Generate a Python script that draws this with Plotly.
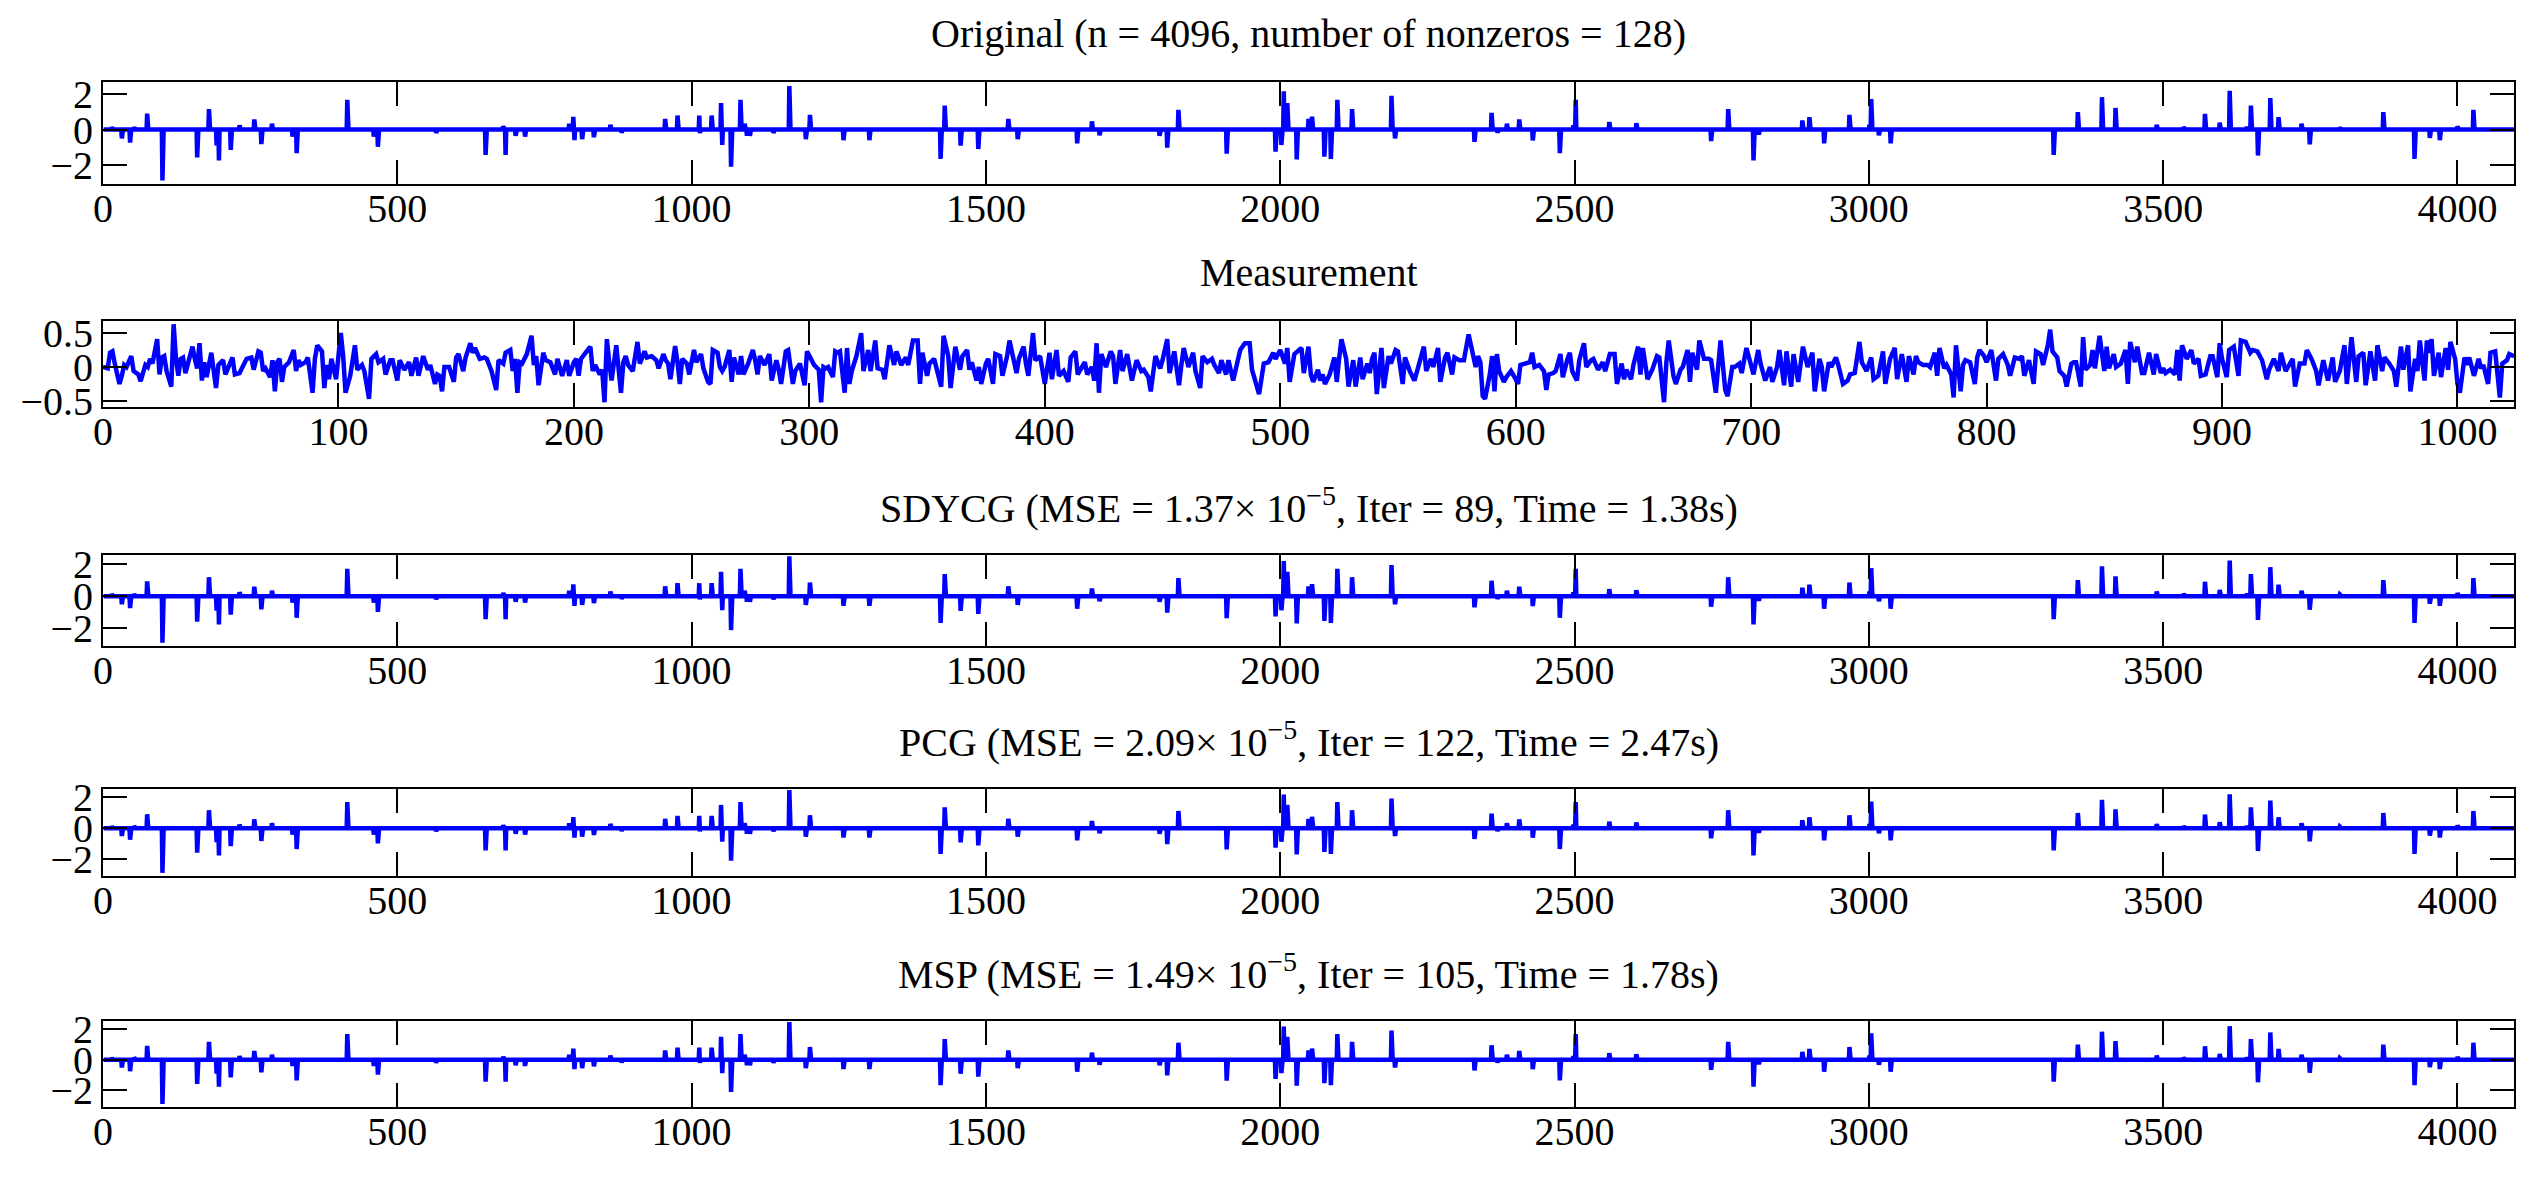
import numpy as np
import plotly.graph_objects as go

N_SIGNAL = 4096
N_MEAS = 1024

# ---- sparse original signal: index and amplitude of the nonzeros ----
orig_idx = [15, 32, 46, 53, 75, 101, 160, 180, 193, 197, 217, 232, 257, 269, 287, 322, 329,
            415, 460, 467, 566, 650, 680, 684, 701, 717, 792, 799, 801, 814, 834, 862, 881,
            955, 976, 1013, 1014, 1034, 1050, 1052, 1067, 1083, 1090, 1094, 1099, 1139, 1166,
            1194, 1201, 1258, 1302, 1423, 1430, 1457, 1487, 1538, 1554, 1655, 1680, 1693,
            1795, 1808, 1827, 1909, 1992, 2002, 2006, 2012, 2028, 2048, 2054, 2075, 2086,
            2097, 2122, 2189, 2195, 2330, 2359, 2369, 2385, 2406, 2429, 2475, 2498, 2502,
            2559, 2605, 2732, 2761, 2804, 2813, 2887, 2899, 2924, 2967, 3001, 3004, 3017,
            3037, 3314, 3355, 3396, 3419, 3489, 3535, 3571, 3596, 3613, 3642, 3649, 3661,
            3682, 3696, 3735, 3749, 3800, 3874, 3927, 3953, 3970, 4000, 4027]
orig_val = [0.13, -0.5, -0.74, 0.13, 0.91, -2.88, -1.58, 1.17, -0.9, -1.75, -1.15, 0.24, 0.58,
            -0.82, 0.33, -0.4, -1.34, 1.69, -0.4, -0.97, -0.19, -1.43, 0.2, -1.43, -0.35, -0.4,
            0.33, 0.73, -0.6, -0.54, -0.43, 0.28, -0.17, 0.61, 0.8, 0.8, -0.2, 0.8, 1.51, -0.87,
            -2.1, 1.69, 0.33, -0.35, -0.35, -0.19, 2.47, -0.54, 0.84, -0.6, -0.6, -1.66, 1.36,
            -0.91, -1.10, 0.61, -0.54, -0.78, 0.47, -0.32, -0.35, -1.02, 1.12, -1.36, -1.25,
            -0.87, 2.18, 1.51, -1.69, 0.61, 0.74, -1.53, -1.66, 1.69, 1.17, 1.92, -0.5, -0.69,
            0.95, -0.17, 0.33, 0.58, -0.61, -1.34, 0.24, 1.69, 0.43, 0.37, -0.65, 1.17, -1.75,
            -0.28, 0.52, 0.71, -0.78, 0.84, 0.28, 1.73, -0.32, -0.78, -1.43, 0.99, 1.84, 1.23,
            0.28, 0.15, 0.89, 0.39, 2.2, 0.15, 1.36, -1.47, 1.79, 0.71, 0.33, -0.84, 0.11, 0.99,
            -1.66, -0.47, -0.6, 0.19, 1.12]

# reconstructions are visually identical to the original
sdycg_idx, sdycg_val = orig_idx, orig_val
pcg_idx, pcg_val = orig_idx, orig_val
msp_idx, msp_val = orig_idx, orig_val

# ---- measurement (read as a trace of extrema) ----
meas_x = [0, 2, 3, 4, 5, 7, 8, 9, 10, 12, 13, 15, 16, 18, 19, 20, 21, 23, 24, 25, 26, 27, 29, 30,
          31, 32, 33, 34, 35, 36, 38, 39, 40, 41, 42, 43, 44, 46, 48, 49, 51, 52, 53, 55, 56, 58,
          59, 61, 63, 64, 66, 67, 68, 69, 71, 72, 73, 74, 75, 76, 77, 79, 81, 82, 83, 84, 86, 87,
          89, 90, 91, 93, 94, 95, 96, 97, 99, 101, 102, 103, 105, 107, 108, 110, 111, 113, 114,
          116, 117, 119, 120, 122, 123, 125, 126, 128, 130, 131, 133, 134, 136, 138, 139, 141,
          142, 143, 144, 145, 147, 149, 150, 151, 153, 154, 156, 157, 158, 160, 162, 163, 165,
          167, 168, 170, 171, 173, 174, 175, 176, 177, 178, 180, 182, 183, 184, 185, 187, 188,
          190, 192, 193, 195, 197, 198, 200, 201, 202, 203, 205, 207, 208, 209, 211, 212, 213,
          214, 215, 216, 218, 220, 221, 222, 223, 225, 227, 228, 230, 231, 233, 235, 236, 238,
          239, 240, 241, 243, 244, 245, 246, 248, 249, 251, 252, 254, 255, 257,
          258, 259, 261, 262, 263, 264, 266, 267, 268, 270, 271, 272, 274, 276, 277, 278, 279,
          281, 283, 284, 286, 287, 288, 290, 291, 293, 294, 296, 298, 299, 301, 302, 304, 305,
          306, 307, 308, 310, 311, 312, 313, 315, 316, 317, 318, 320, 322, 323, 325, 326, 328,
          329, 331, 332, 334, 336, 337, 339, 341, 342, 344, 346, 347, 348, 350, 351, 353, 354,
          356, 357, 359, 360, 362, 364, 365, 367, 368, 369, 371, 372, 373, 375, 376, 378, 379,
          381, 382, 384, 385, 387, 388, 389, 391, 392, 393, 395, 396, 398, 400, 402, 403, 405,
          406, 408, 410, 411, 413, 414, 416, 417, 418, 420, 421, 422, 423, 424, 426, 428, 429,
          430, 432, 433, 435, 437, 439, 441, 442, 444, 445, 447, 449, 450, 452, 453, 455, 457,
          458, 459, 461, 463, 464, 466, 467, 469, 471, 472, 474, 475, 477, 478, 480, 481, 483,
          485, 487, 488, 490, 491, 492, 493, 495, 497, 498, 500, 502, 503, 504, 506, 509, 510,
          512,
          513, 514, 516, 517, 518, 519, 521, 523, 524, 525, 526, 528, 529, 531, 532, 534, 535,
          537, 538, 539, 540, 541, 543, 544, 546, 547, 549, 550, 552, 553, 555, 557, 558, 561,
          562, 564, 565, 567, 568, 570, 571, 573, 574, 576, 578, 580, 581, 583, 584, 585, 586,
          587, 589, 590, 591, 592, 593, 595, 596, 598, 600, 601, 602, 604, 606, 607, 608, 610,
          612, 613, 614, 616, 617, 619, 620, 622, 623, 624, 626, 627, 629, 630, 632, 633, 635,
          637, 638, 640, 642, 643, 645, 646, 647, 649, 650, 652, 653, 654, 656, 658, 660, 661,
          663, 664, 665, 667, 668, 670, 671, 673, 674, 675, 677, 678, 680, 682, 683, 685, 686,
          687, 689, 690, 692, 693, 695, 696, 698, 700, 701, 703, 704, 706, 708, 709, 711, 712,
          714, 715, 717, 718, 719, 720, 722, 724, 726, 727, 729, 730, 731, 733, 734, 736, 737,
          739, 741, 742, 744, 746, 747, 749, 751, 752, 754, 756, 757, 759, 761, 762, 764, 766,
          767, 769,
          770, 771, 773, 775, 776, 778, 779, 780, 782, 783, 785, 786, 787, 789, 790, 791, 793,
          795, 796, 797, 799, 800, 802, 804, 805, 807, 809, 810, 812, 814, 815, 816, 818, 820,
          821, 823, 824, 826, 827, 828, 830, 831, 833, 834, 836, 837, 838, 840, 841, 842, 844,
          845, 846, 848, 850, 851, 852, 854, 855, 857, 859, 860, 861, 863, 864, 866, 867, 869,
          871, 872, 874, 875, 876, 878, 880, 881, 882, 883, 885, 887, 888, 890, 891, 893, 895,
          896, 898, 899, 900, 902, 903, 905, 907, 908, 910, 912, 913, 915, 917, 919, 920, 922,
          924, 925, 927, 929, 930, 931, 933, 935, 936, 938, 940, 941, 943, 945, 946, 947, 948,
          950, 952, 953, 955, 957, 958, 960, 961, 963, 965, 966, 968, 969, 971, 973, 974, 976,
          977, 979, 980, 982, 983, 984, 986, 987, 988, 989, 990, 992, 993, 995, 996, 997, 999,
          1000, 1001, 1003, 1004, 1005, 1007, 1009, 1010, 1011, 1013, 1014, 1016, 1018, 1019,
          1021, 1022, 1024]
meas_y = [0.00, -0.02, 0.21, 0.23, 0.05, -0.25, -0.13, 0.03, 0.00, 0.16, -0.06, -0.11, -0.21,
          0.03, 0.00, 0.12, 0.05, 0.41, -0.11, 0.14, 0.16, -0.06, -0.29, 0.63, 0.12, -0.13, 0.12,
          0.14, -0.09, 0.03, 0.30, 0.12, -0.02, 0.35, -0.20, 0.07, -0.15, 0.21, -0.31, 0.03, 0.10,
          -0.11, -0.02, 0.14, -0.11, -0.09, -0.02, 0.12, 0.14, -0.04, 0.23, 0.21, -0.06, -0.02,
          -0.15, 0.10, -0.36, 0.07, 0.12, -0.22, 0.00, 0.07, 0.25, -0.06, 0.10, 0.03, 0.07, 0.14,
          -0.38, 0.12, 0.32, 0.23, -0.31, 0.03, -0.18, 0.12, -0.18, 0.50, 0.16, -0.38, -0.13,
          0.32, -0.04, 0.03, -0.06, -0.47, 0.12, 0.19, 0.07, 0.12, -0.11, 0.10, 0.10, -0.20, 0.10,
          -0.04, 0.07, -0.13, 0.14, -0.13, 0.16, -0.04, 0.03, -0.25, -0.11, -0.13, -0.36, 0.00,
          0.00, -0.22, 0.14, 0.19, -0.06, 0.14, 0.35, 0.21, 0.28, 0.12, 0.14, 0.12, -0.06, -0.34,
          0.10, 0.05, 0.21, 0.25, -0.06, 0.12, -0.38, 0.07, 0.05, 0.19, 0.46, 0.03, 0.16, -0.27,
          0.21, 0.10, 0.07, -0.11, 0.12, -0.13, 0.10, -0.13, 0.07, 0.12, -0.13, 0.12, 0.21, 0.30,
          -0.06, 0.03, -0.11, -0.04, -0.52, 0.41, 0.07, -0.20, 0.32, -0.38, 0.07, 0.16, 0.03,
          -0.06, 0.37, 0.05, 0.23, 0.14, 0.16, 0.10, -0.02, 0.19, 0.10, 0.05, -0.18, 0.31, 0.07,
          -0.25, 0.12, 0.05, -0.11, 0.25, 0.07, 0.19, -0.02, -0.22,
          -0.25, 0.25, 0.21, 0.00, -0.06, 0.00, 0.25, -0.22, 0.14, -0.11, 0.16, -0.11, 0.05, 0.25,
          0.10, -0.11, 0.16, 0.03, 0.19, -0.20, 0.10, -0.04, -0.25, 0.23, 0.25, -0.25, -0.06,
          0.05, -0.27, 0.23, 0.10, 0.03, -0.04, -0.52, 0.00, -0.02, 0.00, -0.15, 0.23, 0.21, 0.23,
          -0.38, 0.28, -0.25, -0.06, 0.16, 0.50, -0.06, 0.25, -0.06, 0.39, -0.02, -0.04, -0.18,
          0.32, 0.03, 0.23, 0.03, 0.14, 0.03, 0.39, 0.39, -0.25, 0.21, -0.13, 0.05, 0.12, -0.02,
          -0.29, 0.46, 0.16, -0.31, 0.30, -0.04, 0.16, 0.25, -0.04, 0.07, -0.20, 0.00, -0.25,
          0.05, 0.12, -0.25, 0.19, 0.16, -0.13, 0.16, 0.39, 0.07, -0.09, 0.12, 0.30, 0.05, -0.13,
          0.50, 0.10, 0.16, -0.25, 0.21, -0.18, 0.25, -0.13, -0.06, -0.22, 0.14, 0.23, -0.11,
          0.03, 0.07, -0.11, 0.00, -0.20, 0.35, -0.38, 0.19, 0.00, 0.23, 0.16, -0.25, 0.25, -0.06,
          0.19, -0.20, 0.10, -0.06, -0.04, -0.15, -0.36, 0.16, -0.02, 0.10, 0.41, -0.09, 0.23,
          -0.27, 0.03, 0.28, 0.00, 0.21, -0.06, -0.31, 0.16, 0.07, 0.12, 0.03, -0.09, 0.10, -0.11,
          0.10, -0.20, -0.04, 0.25, 0.35, 0.35, -0.04, -0.29, -0.40, -0.18, 0.05, 0.07, 0.21,
          0.12, 0.25, 0.05, 0.28, -0.22, 0.19, 0.28, -0.09, 0.30,
          -0.11, -0.22, -0.04, -0.20, -0.11, -0.25, -0.11, 0.14, -0.22, 0.12, 0.41, 0.12, -0.29,
          0.10, -0.29, 0.14, -0.18, 0.05, -0.09, 0.12, 0.21, -0.40, 0.28, -0.31, 0.16, 0.05, 0.25,
          0.23, -0.25, 0.14, -0.06, -0.20, -0.06, 0.30, -0.06, 0.12, 0.00, 0.28, -0.22, 0.14,
          0.21, -0.11, 0.14, 0.10, 0.10, 0.48, 0.32, 0.00, 0.16, 0.07, -0.43, -0.47, -0.11, 0.16,
          -0.36, 0.19, -0.06, -0.22, -0.15, -0.06, -0.18, -0.25, 0.03, 0.05, 0.07, 0.21, 0.00,
          0.03, -0.06, -0.34, -0.11, -0.09, -0.06, 0.19, -0.15, 0.12, 0.21, -0.06, -0.20, 0.10,
          0.35, 0.00, 0.10, 0.12, -0.04, 0.07, -0.06, 0.19, 0.19, -0.25, 0.05, -0.18, -0.04,
          -0.18, 0.03, 0.30, -0.11, 0.28, -0.18, -0.04, 0.16, 0.14, -0.52, 0.07, 0.39, -0.13,
          -0.25, -0.04, 0.00, 0.25, -0.22, 0.21, -0.04, 0.39, 0.12, 0.12, 0.10, -0.38, -0.02,
          0.39, -0.34, -0.43, 0.00, 0.00, 0.05, -0.09, 0.28, 0.03, -0.11, 0.25, 0.05, -0.20, 0.00,
          -0.22, 0.00, 0.25, -0.27, 0.23, -0.29, 0.19, 0.00, -0.22, 0.30, 0.00, 0.21, -0.36, 0.12,
          0.00, -0.36, 0.07, 0.00, 0.14, 0.03, -0.25, -0.20, -0.11, -0.09, 0.37, 0.07, -0.06,
          0.14, -0.18, -0.13, 0.23, -0.25, 0.12, 0.28, -0.18, 0.19, -0.22, 0.16, -0.11,
          0.16, 0.07, 0.03, 0.03, 0.00, 0.21, -0.13, 0.28, -0.02, 0.03, -0.11, -0.45, 0.32, -0.36,
          0.03, 0.10, 0.07, -0.25, 0.14, 0.25, 0.16, 0.07, 0.25, -0.20, 0.12, 0.19, 0.03, -0.13,
          0.14, 0.12, 0.16, -0.13, 0.10, -0.25, 0.23, 0.19, 0.03, 0.32, 0.55, 0.23, 0.14, -0.06,
          -0.13, -0.29, 0.05, 0.07, 0.07, -0.29, 0.44, -0.04, 0.03, 0.25, -0.02, 0.46, -0.06,
          0.30, -0.02, 0.19, 0.00, 0.05, 0.25, -0.25, 0.37, 0.07, 0.30, -0.09, -0.09, 0.21, -0.11,
          0.19, -0.09, -0.02, -0.09, -0.04, -0.11, 0.25, -0.20, 0.32, 0.12, 0.25, 0.05, 0.12,
          -0.13, -0.11, 0.16, 0.16, -0.15, 0.35, 0.12, -0.15, 0.25, 0.30, -0.13, 0.39, 0.37, 0.21,
          0.25, 0.23, 0.10, -0.18, -0.04, 0.12, -0.06, 0.21, -0.06, 0.05, 0.12, -0.29, 0.05, 0.05,
          0.25, 0.12, -0.06, -0.27, 0.10, -0.20, 0.00, 0.14, -0.22, -0.06, 0.32, -0.25, 0.44,
          -0.22, 0.16, 0.21, -0.27, 0.23, -0.20, 0.32, -0.06, 0.14, 0.05, -0.06, -0.29, 0.30,
          -0.04, 0.32, -0.36, 0.12, -0.06, 0.39, -0.20, 0.39, 0.21, 0.41, -0.13, 0.21, -0.15,
          0.28, -0.04, 0.37, 0.12, -0.25, -0.38, 0.14, 0.03, 0.14, -0.13, 0.12, -0.02, 0.03,
          -0.25, 0.21, 0.23, -0.45, 0.05, 0.10, 0.19, 0.16]

titles = [
    "Original (n = 4096, number of nonzeros = 128)",
    "Measurement",
    "SDYCG (MSE = 1.37× 10<sup>−5</sup>, Iter = 89, Time = 1.38s)",
    "PCG (MSE = 2.09× 10<sup>−5</sup>, Iter = 122, Time = 2.47s)",
    "MSP (MSE = 1.49× 10<sup>−5</sup>, Iter = 105, Time = 1.78s)",
]
signal_ticks = [0, 500, 1000, 1500, 2000, 2500, 3000, 3500, 4000]
meas_ticks = [0, 100, 200, 300, 400, 500, 600, 700, 800, 900, 1000]
signal_yticks = [-2, 0, 2]
meas_yticks = [-0.5, 0, 0.5]


def dense(idx, val):
    s = np.zeros(N_SIGNAL)
    s[np.asarray(idx) - 1] = val
    return s


W, H = 2530, 1186
FONT = "Liberation Serif, Times New Roman, serif"
BLUE = "#0000ff"

# plot boxes in pixels (top, bottom) and y ranges
boxes = [(71, 175), (316, 404), (556, 649), (796, 885), (1034, 1122)]
yranges = [[-3.06, 2.69], [-0.587, 0.678], [-3.06, 2.55], [-3.06, 2.55], [-3.06, 2.55]]

fig = go.Figure()
sig_x = np.arange(1, N_SIGNAL + 1)
series = [
    (sig_x, dense(orig_idx, orig_val)),
    (np.asarray(meas_x), np.asarray(meas_y)),
    (sig_x, dense(sdycg_idx, sdycg_val)),
    (sig_x, dense(pcg_idx, pcg_val)),
    (sig_x, dense(msp_idx, msp_val)),
]

annotations = []
for k, ((xs, ys), (top, bot), yr) in enumerate(zip(series, boxes, yranges), start=1):
    sfx = "" if k == 1 else str(k)
    fig.add_trace(go.Scatter(x=xs, y=ys, mode="lines",
                             line=dict(color=BLUE, width=4.5),
                             xaxis="x" + sfx, yaxis="y" + sfx, showlegend=False,
                             hoverinfo="skip"))
    is_meas = (k == 2)
    dom = [1 - bot / H, 1 - top / H]
    common = dict(showline=True, linecolor="black", linewidth=2, mirror="ticks",
                  ticks="inside", ticklen=24, tickwidth=2, tickcolor="black",
                  showgrid=False, zeroline=False,
                  tickfont=dict(family=FONT, size=40, color="black"))
    fig.layout["xaxis" + sfx] = dict(
        common, domain=[0, 1], anchor="y" + sfx, ticklabelstandoff=-12,
        range=[0, N_MEAS] if is_meas else [0, N_SIGNAL],
        tickvals=meas_ticks if is_meas else signal_ticks)
    fig.layout["yaxis" + sfx] = dict(
        common, domain=dom, anchor="x" + sfx, range=yr,
        tickvals=meas_yticks if is_meas else signal_yticks)
    annotations.append(dict(text=titles[k - 1], xref="paper", yref="paper",
                            x=0.5, y=dom[1], xanchor="center", yanchor="middle",
                            yshift=49, showarrow=False,
                            font=dict(family=FONT, size=40, color="black")))

fig.update_layout(width=W, height=H, paper_bgcolor="white", plot_bgcolor="white",
                  margin=dict(l=103, r=16, t=0, b=0), annotations=annotations,
                  font=dict(family=FONT, color="black"))
fig.write_html("out.html", config={"displayModeBar": False},
               post_script="document.body.style.margin='0';document.body.style.overflow='hidden';")
